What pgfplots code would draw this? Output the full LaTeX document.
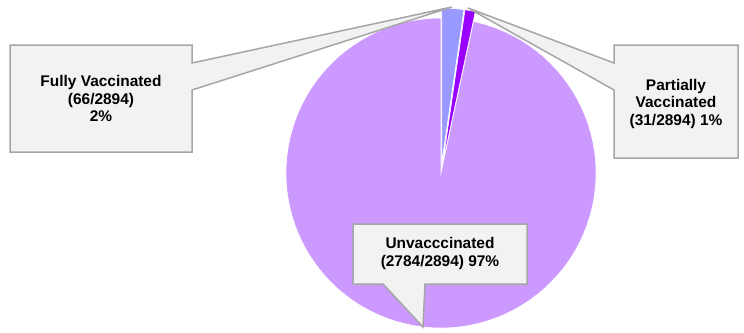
\documentclass[border=0pt]{standalone}
\usepackage{fontspec}
\setmainfont{Liberation Sans}
\usepackage{pgfplots}
\pgfplotsset{compat=1.18}
\definecolor{unvacc}{HTML}{CC99FF}
\definecolor{fully}{HTML}{9999FF}
\definecolor{partial}{HTML}{9900FF}
\definecolor{calloutfill}{HTML}{F2F2F2}
\definecolor{calloutline}{HTML}{A6A6A6}

\begin{document}
\begin{tikzpicture}
% counts per vaccination status
\def\nFully{66}
\def\nPartial{31}
\def\nUnvacc{2784}
\pgfmathsetmacro\total{\nFully+\nPartial+\nUnvacc}
% slice boundaries, clockwise from 12 o'clock
\pgfmathsetmacro\aA{90-360*(\nFully/\total)}
\pgfmathsetmacro\aB{\aA-360*(\nPartial/\total)}
\pgfmathsetmacro\mA{(90+\aA)/2}
\pgfmathsetmacro\mB{(\aA+\aB)/2}
\def\R{155bp}
\begin{axis}[x=1bp, y=1bp, xmin=0, xmax=744, ymin=0, ymax=332,
  hide axis, clip=false]
  % pie slices
  \fill[unvacc, draw=white, line width=0.6bp] (axis cs:441,159) -- ++(\aB:\R)
     arc[start angle=\aB, end angle=-270, radius=\R] -- cycle;
  \fill[fully, draw=white, line width=0.6bp] ([shift={(\mA:10bp)}]axis cs:441,159) -- ++(90:\R)
     arc[start angle=90, end angle=\aA, radius=\R] -- cycle;
  \fill[partial, draw=white, line width=0.6bp] ([shift={(\mB:10bp)}]axis cs:441,159) -- ++(\aA:\R)
     arc[start angle=\aA, end angle=\aB, radius=\R] -- cycle;
  % callouts
  \filldraw[fill=calloutfill, draw=calloutline, line width=1.5bp, line join=miter]
    (axis cs:10,287) -- (axis cs:192,287) -- (axis cs:192,269) -- (axis cs:452,325)
    -- (axis cs:192,242) -- (axis cs:192,180) -- (axis cs:10,180) -- cycle;
  \filldraw[fill=calloutfill, draw=calloutline, line width=1.5bp, line join=miter]
    (axis cs:614,287) -- (axis cs:738,287) -- (axis cs:738,174) -- (axis cs:614,174)
    -- (axis cs:614,242) -- (axis cs:468,324) -- (axis cs:614,269) -- cycle;
  \filldraw[fill=calloutfill, draw=calloutline, line width=1.5bp, line join=miter]
    (axis cs:353,108) -- (axis cs:527,108) -- (axis cs:527,48) -- (axis cs:425,48)
    -- (axis cs:423,5) -- (axis cs:383,48) -- (axis cs:353,48) -- cycle;
  % labels
  \tikzset{lbl/.style={font=\bfseries\fontsize{15.5}{17.5}\selectfont, align=center, text=black}}
  \node[lbl] at (axis cs:101,233.5) {Fully Vaccinated\\(66/2894)\\2\%};
  \node[lbl] at (axis cs:676,228) {Partially\\Vaccinated\\(31/2894) 1\%};
  \node[lbl] at (axis cs:440,78.5) {Unvacccinated\\(2784/2894) 97\%};
\end{axis}
\pgfresetboundingbox
\path (current axis.south west) rectangle (current axis.north east);
\end{tikzpicture}
\end{document}
